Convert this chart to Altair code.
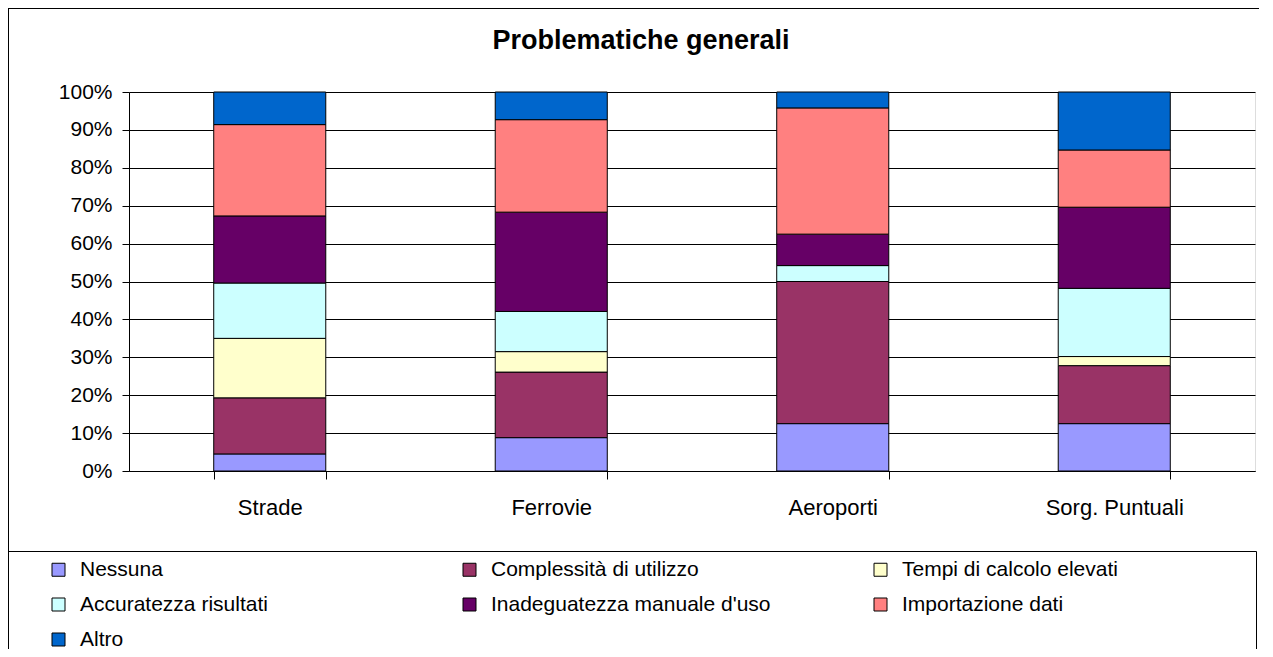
import altair as alt
import pandas as pd

categories = ["Strade", "Ferrovie", "Aeroporti", "Sorg. Puntuali"]
series = [
    "Nessuna",
    "Complessità di utilizzo",
    "Tempi di calcolo elevati",
    "Accuratezza risultati",
    "Inadeguatezza manuale d'uso",
    "Importazione dati",
    "Altro",
]
colors = ["#9999FF", "#993366", "#FFFFCC", "#CCFFFF", "#660066", "#FF8080", "#0066CC"]

strade = [4.5, 14.8, 15.7, 14.6, 17.7, 24.1, 8.6]
ferrovie = [8.8, 17.3, 5.4, 10.6, 26.2, 24.4, 7.3]
aeroporti = [12.5, 37.5, 0.0, 4.2, 8.3, 33.3, 4.2]
sorgenti = [12.5, 15.3, 2.4, 18.0, 21.4, 15.1, 15.3]

title_text = "Problematiche generali"

values_by_cat = [strade, ferrovie, aeroporti, sorgenti]
rows = []
for cat, vals in zip(categories, values_by_cat):
    for i, (s, v) in enumerate(zip(series, vals)):
        rows.append({"categoria": cat, "serie": s, "ordine": i, "valore": v})
df = pd.DataFrame(rows)

FONT = "Liberation Sans"

bars = alt.Chart(df).mark_bar(stroke="black", strokeWidth=1).encode(
    x=alt.X(
        "categoria:N",
        sort=categories,
        title=None,
        scale=alt.Scale(paddingInner=0.602, paddingOuter=0.301),
        axis=alt.Axis(
            labelAngle=0,
            tickBand="extent",
            tickSize=8,
            tickColor="black",
            domainColor="black",
            labelPadding=18,
            labelFont=FONT,
            labelFontSize=22,
            labelColor="black",
            grid=False,
        ),
    ),
    y=alt.Y(
        "valore:Q",
        stack="normalize",
        title=None,
        scale=alt.Scale(domain=[0, 1]),
        axis=alt.Axis(
            format=".0%",
            values=[i / 10 for i in range(11)],
            tickSize=7,
            tickColor="black",
            domainColor="black",
            gridColor="black",
            gridWidth=1,
            labelPadding=10,
            labelFont=FONT,
            labelFontSize=21,
            labelColor="black",
        ),
    ),
    color=alt.Color(
        "serie:N",
        sort=series,
        scale=alt.Scale(domain=series, range=colors),
        legend=alt.Legend(
            title=None,
            orient="none",
            direction="horizontal",
            legendX=-81,
            legendY=467,
            columns=3,
            gridAlign="all",
            columnPadding=99,
            rowPadding=13,
            symbolType="square",
            symbolSize=169,
            symbolStrokeColor="black",
            symbolStrokeWidth=1,
            symbolOpacity=1,
            labelFont=FONT,
            labelFontSize=21,
            labelColor="black",
            labelOffset=11,
            labelLimit=500,
            padding=0,
        ),
    ),
    order=alt.Order("ordine:Q", sort="ascending"),
)

frame_df = pd.DataFrame({"titolo": [title_text]})

title_mark = alt.Chart(frame_df).mark_text(
    font=FONT, fontSize=27, fontWeight="bold", color="black",
    align="center", baseline="alphabetic",
).encode(text="titolo:N", x=alt.value(512), y=alt.value(-43))

legend_box = alt.Chart(frame_df).mark_rect(fill=None, stroke="black", strokeWidth=1).encode(
    x=alt.value(-121.5), x2=alt.value(1127.5), y=alt.value(459.5), y2=alt.value(600)
)
top_rule = alt.Chart(frame_df).mark_rule(color="black", strokeWidth=1).encode(
    x=alt.value(-121), x2=alt.value(1130), y=alt.value(-83.5)
)
left_rule = alt.Chart(frame_df).mark_rule(color="black", strokeWidth=1).encode(
    x=alt.value(-120.5), y=alt.value(-84), y2=alt.value(600)
)

chart = alt.layer(bars, title_mark, legend_box, top_rule, left_rule).properties(
    width=1126,
    height=379,
    autosize=alt.AutoSizeParams(type="none"),
    padding={"left": 121, "top": 84, "right": 10, "bottom": 178},
).configure_view(
    fill="#C0C0C0", stroke="#808080", strokeWidth=1
).configure(background="white")

chart.save("out.html", embed_options={"renderer": "svg", "actions": False})
